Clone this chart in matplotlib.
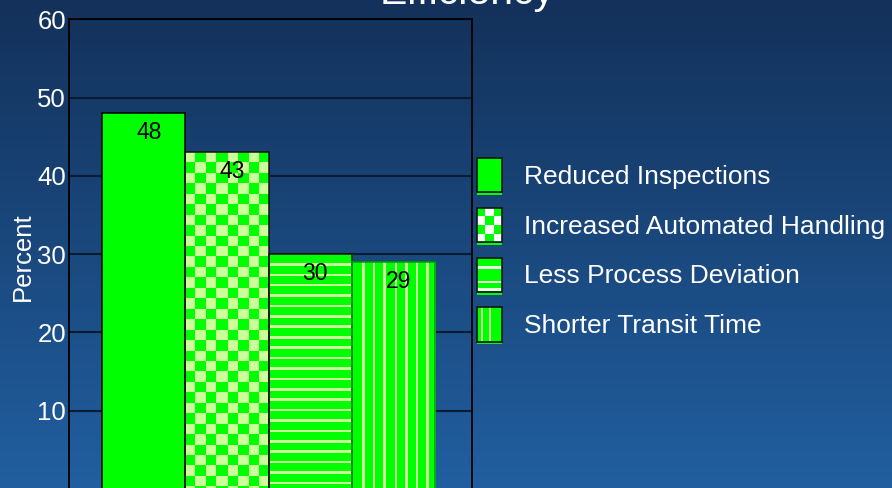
import numpy as np
import matplotlib
matplotlib.use('Agg')
import matplotlib.pyplot as plt
from matplotlib.patches import Rectangle
from matplotlib.legend_handler import HandlerBase

# ---------------- data ----------------
categories = ['Reduced Inspections', 'Increased Automated Handling',
              'Less Process Deviation', 'Shorter Transit Time']
values = [48, 43, 30, 29]
patterns = ['solid', 'checker', 'hstripe', 'vstripe']
yticks = [10, 20, 30, 40, 50, 60]
title = 'Efficiency'
ylabel = 'Percent'

# ---------------- style ----------------
GREEN = '#00ff00'
LIGHT = '#ccff99'
edge_colors = ['#000000', '#111111', '#111111', '#009a00']
plt.rcParams['font.family'] = ['Liberation Sans', 'DejaVu Sans']

W, H, DPI = 892, 488, 100
fig = plt.figure(figsize=(W / DPI, H / DPI), dpi=DPI)

# background gradient
bg = fig.add_axes([0, 0, 1, 1], zorder=-10)
c_top = np.array([19, 49, 90]) / 255
c_bot = np.array([33, 95, 160]) / 255
t = np.linspace(0, 1, 256)[:, None]
grad = (c_top * (1 - t) + c_bot * t)[:, None, :]
bg.imshow(grad, aspect='auto', extent=[0, 1, 0, 1], interpolation='bilinear')
bg.set_axis_off()

ax = fig.add_axes([69 / W, -1 / H, 402.5 / W, (489 - 19.4) / H])
ax.set_facecolor('none')
XLIM = (-0.4, 4.438)
YLIM = (0, 60)
ax.set_xlim(*XLIM)
ax.set_ylim(*YLIM)

x = np.arange(len(values))
fills = ax.bar(x, values, width=1, align='edge', color=GREEN, linewidth=0, zorder=2)
outlines = ax.bar(x, values, width=1, align='edge', facecolor='none',
                  edgecolor=edge_colors, linewidth=1.1, zorder=3)

# pixel scale of data units
p0 = ax.transData.transform((0, 0))
p1 = ax.transData.transform((1, 1))
sx, sy = p1[0] - p0[0], p1[1] - p0[1]

CELL = 10.45      # checker cell, px
PERIOD_H = 10.4   # horizontal stripe pitch, px
PERIOD_V = 10.55  # vertical stripe pitch, px
OFF_V = 11.3
SW = 2.6          # stripe width, px
g_rgb = np.array(matplotlib.colors.to_rgb(GREEN))
l_rgb = np.array(matplotlib.colors.to_rgb(LIGHT))


def pattern_image(kind, wpx, hpx):
    nx, ny = int(round(wpx)), int(round(hpx))
    xs = np.arange(nx) + 0.5
    ys = np.arange(ny) + 0.5
    if kind == 'checker':
        mask = (np.floor(xs[None, :] / CELL) + np.floor(ys[:, None] / CELL)) % 2 == 0
    elif kind == 'hstripe':
        d = np.abs(((ys + PERIOD_H / 2) % PERIOD_H) - PERIOD_H / 2)
        m = (d < SW / 2) & (ys > PERIOD_H / 2)
        mask = np.repeat(m[:, None], nx, axis=1)
    else:
        d = np.abs(((xs - OFF_V + PERIOD_V / 2) % PERIOD_V) - PERIOD_V / 2)
        m = (d < SW / 2) & (xs > OFF_V - PERIOD_V / 2)
        mask = np.repeat(m[None, :], ny, axis=0)
    img = np.where(mask[:, :, None], l_rgb, g_rgb)
    return img


for rect, kind in zip(fills, patterns):
    if kind == 'solid':
        continue
    x0, w, h = rect.get_x(), rect.get_width(), rect.get_height()
    img = pattern_image(kind, w * sx, h * sy)
    im = ax.imshow(img, extent=[x0, x0 + w, 0, h], origin='upper',
                   interpolation='nearest', aspect='auto', zorder=2.5)
    im.set_clip_path(rect)

ax.set_xlim(*XLIM)
ax.set_ylim(*YLIM)

for rect, v in zip(fills, values):
    ax.annotate(f'{v}', (rect.get_x() + rect.get_width() / 2, v),
                xytext=(5, -26), textcoords='offset pixels',
                ha='center', va='baseline', fontsize=16.5, color='black', zorder=5)

ax.set_xticks([])
ax.set_yticks(yticks)
ax.yaxis.grid(True, color='#0a1a30', linewidth=1.5)
ax.set_axisbelow(True)
ax.tick_params(axis='y', length=0, pad=2.2, labelsize=18.5, labelcolor='white')
for side in ['left', 'right', 'top']:
    ax.spines[side].set_color('black')
    ax.spines[side].set_linewidth(1.3)
ax.spines['bottom'].set_visible(False)

fig.text(467.5 / W, 1 - 4 / H, title, ha='center', va='baseline',
         fontsize=29.5, color='white')
fig.text(23 / W, 1 - 257 / H, ylabel, rotation=90, ha='center', va='center',
         fontsize=18.5, color='white')


class HandlerPattern(HandlerBase):
    def __init__(self, kind, edge):
        super().__init__()
        self.kind = kind
        self.edge = edge

    def create_artists(self, legend, orig_handle, xdescent, ydescent,
                       width, height, fontsize, trans):
        x0, y0 = -xdescent, -ydescent
        arts = [Rectangle((x0, y0 - 2.0), width, 1.4, facecolor=GREEN,
                          edgecolor='none', transform=trans),
                Rectangle((x0, y0), width, height, facecolor=GREEN,
                          edgecolor='none', transform=trans)]
        if self.kind == 'checker':
            ncol, nrow = 3, 4
            cw, ch = width / ncol, height / nrow
            for i in range(nrow):
                for j in range(ncol):
                    if (i + j) % 2 == 1:
                        arts.append(Rectangle((x0 + j * cw, y0 + height - (i + 1) * ch),
                                              cw, ch, facecolor='white',
                                              edgecolor='none', transform=trans))
        elif self.kind == 'hstripe':
            for f in (0.29, 0.71, 0.93):
                arts.append(Rectangle((x0, y0 + height * (1 - f) - 0.8), width, 1.6,
                                      facecolor='#e8ffe0', edgecolor='none',
                                      transform=trans))
        elif self.kind == 'vstripe':
            for f in (0.2, 0.52):
                arts.append(Rectangle((x0 + width * f - 0.9, y0), 1.8, height,
                                      facecolor=LIGHT, edgecolor='none',
                                      transform=trans))
        arts.append(Rectangle((x0, y0), width, height, facecolor='none',
                              edgecolor='#0a1a10', linewidth=1.2, transform=trans))
        return arts


proxies = [Rectangle((0, 0), 1, 1) for _ in categories]
hmap = {p: HandlerPattern(k, e) for p, k, e in zip(proxies, patterns, edge_colors)}
fs = 19
ax.legend(proxies, categories, handler_map=hmap, loc='upper left',
          bbox_to_anchor=(477 / W, 1 - 158 / H), bbox_transform=fig.transFigure,
          frameon=False, fontsize=fs, labelcolor='white', borderpad=0,
          borderaxespad=0, handlelength=18 / fs, handleheight=1.62,
          handletextpad=0.84, labelspacing=0.59)

fig.savefig('out.png', dpi=DPI)
